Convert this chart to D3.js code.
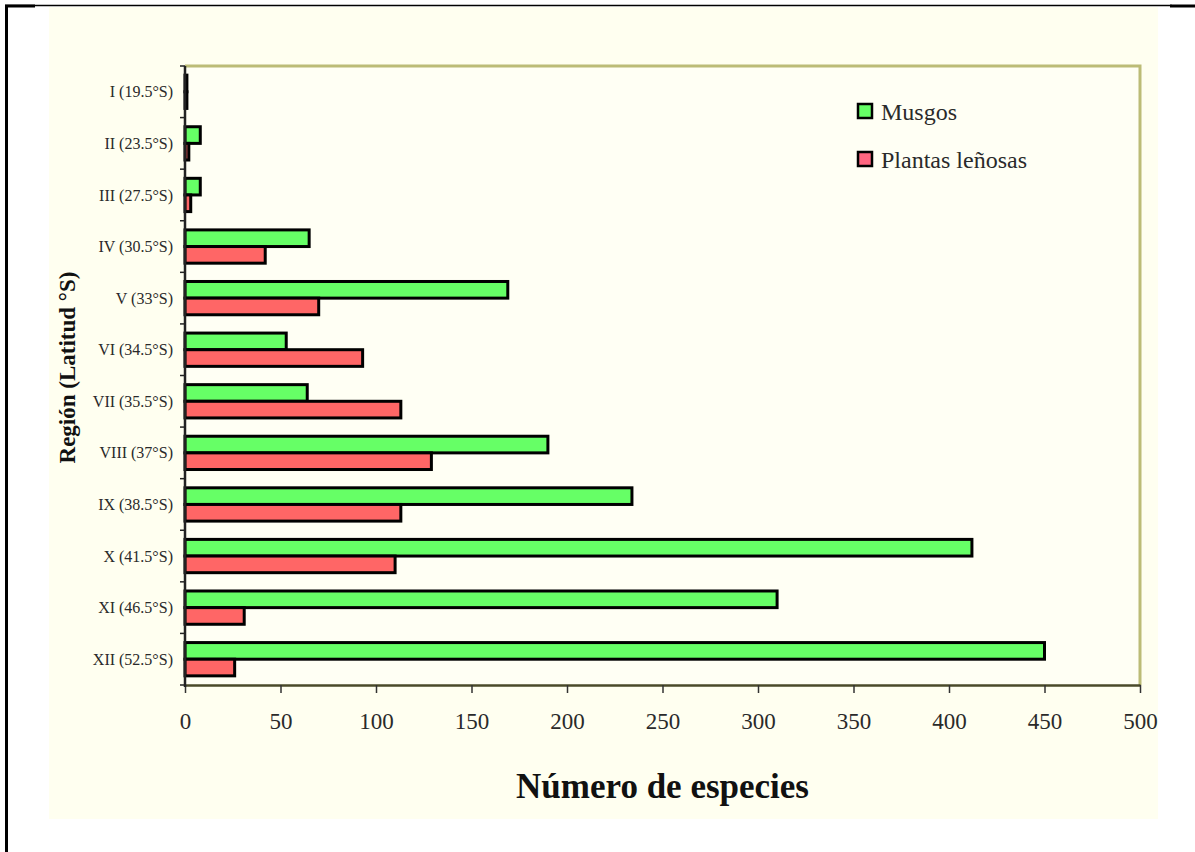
<!DOCTYPE html>
<html>
<head>
<meta charset="utf-8">
<script src="https://cdn.jsdelivr.net/npm/d3@7"></script>
<style>
  html, body { margin: 0; padding: 0; background: #ffffff; }
  svg { display: block; }
</style>
</head>
<body>
<svg id="chart" width="1195" height="852"></svg>
<script>
// Regions of Chile (latitude) and species counts per group
const regions = ["I (19.5°S)", "II (23.5°S)", "III (27.5°S)", "IV (30.5°S)", "V (33°S)",
  "VI (34.5°S)", "VII (35.5°S)", "VIII (37°S)", "IX (38.5°S)", "X (41.5°S)",
  "XI (46.5°S)", "XII (52.5°S)"];
const musgos = [1, 8, 8, 65, 169, 53, 64, 190, 234, 412, 310, 450];
const lenosas = [1, 2, 3, 42, 70, 93, 113, 129, 113, 110, 31, 26];
const seriesNames = ["Musgos", "Plantas leñosas"];
const seriesColors = ["#66ff66", "#ff6666"];
const xTicks = [0, 50, 100, 150, 200, 250, 300, 350, 400, 450, 500];

const svg = d3.select("#chart");
const serif = "'Liberation Serif', 'Times New Roman', serif";

// Page frame
svg.append("rect").attr("x", 49).attr("y", 7).attr("width", 1109).attr("height", 812)
  .attr("fill", "#fffff0");
svg.append("line").attr("x1", 5).attr("x2", 1172).attr("y1", 5.5).attr("y2", 5.5)
  .attr("stroke", "#000").attr("stroke-width", 1.5);
svg.append("line").attr("x1", 5).attr("x2", 35).attr("y1", 6).attr("y2", 6)
  .attr("stroke", "#000").attr("stroke-width", 3);
svg.append("line").attr("x1", 1170).attr("x2", 1195).attr("y1", 6).attr("y2", 6)
  .attr("stroke", "#000").attr("stroke-width", 3);
svg.append("line").attr("x1", 6.5).attr("x2", 6.5).attr("y1", 5).attr("y2", 852)
  .attr("stroke", "#000").attr("stroke-width", 3);

// Plot area
const m = { left: 185, top: 66, right: 1140, bottom: 685 };
const x = d3.scaleLinear().domain([0, 500]).range([m.left, m.right]);
const y = d3.scaleBand().domain(regions).range([m.top, m.bottom]).paddingInner(0).paddingOuter(0);
const ySub = d3.scaleBand().domain(seriesNames).range([0, y.bandwidth()]).paddingInner(0).paddingOuter(0.55);

svg.append("rect").attr("x", m.left).attr("y", m.top)
  .attr("width", m.right - m.left).attr("height", m.bottom - m.top)
  .attr("fill", "#fffff4");

// olive frame on top and right
svg.append("path")
  .attr("d", `M${m.left},${m.top}H${m.right}V${m.bottom}`)
  .attr("fill", "none").attr("stroke", "#bcbc76").attr("stroke-width", 3);

// Bars
const series = [musgos, lenosas];
series.forEach((vals, si) => {
  svg.append("g").selectAll("rect").data(regions).join("rect")
    .attr("x", x(0))
    .attr("y", (d) => y(d) + ySub(seriesNames[si]))
    .attr("width", (d, i) => Math.max(0, x(vals[i]) - x(0)))
    .attr("height", ySub.bandwidth())
    .attr("fill", seriesColors[si])
    .attr("stroke", "#000")
    .attr("stroke-width", 3);
});

// X axis
const xAxis = d3.axisBottom(x).tickValues(xTicks).tickSize(8).tickSizeOuter(0).tickPadding(20);
const gx = svg.append("g").attr("transform", `translate(0,${m.bottom})`).call(xAxis);
gx.select(".domain").attr("stroke", "#4a4a2a").attr("stroke-width", 2.5);
gx.selectAll(".tick line").attr("stroke", "#333").attr("stroke-width", 1.5);
gx.selectAll(".tick text").attr("font-family", serif).attr("font-size", 23)
  .attr("fill", "#2a2a2a");

// Y axis with ticks at category boundaries
const gy = svg.append("g").attr("transform", `translate(${m.left},0)`);
gy.append("line").attr("x1", 0).attr("x2", 0).attr("y1", m.top).attr("y2", m.bottom + 2)
  .attr("stroke", "#222").attr("stroke-width", 2.5);
const bounds = regions.map((d) => y(d)).concat([m.bottom]);
gy.selectAll("line.tk").data(bounds).join("line").attr("class", "tk")
  .attr("x1", -5).attr("x2", 0).attr("y1", (d) => d).attr("y2", (d) => d)
  .attr("stroke", "#222").attr("stroke-width", 1.5);
gy.selectAll("text").data(regions).join("text")
  .attr("x", -12)
  .attr("y", (d) => y(d) + y.bandwidth() / 2)
  .attr("dy", "0.35em")
  .attr("text-anchor", "end")
  .attr("font-family", serif).attr("font-size", 16)
  .attr("fill", "#2a2a2a")
  .text((d) => d);

// Axis titles
svg.append("text").attr("x", (m.left + m.right) / 2).attr("y", 798)
  .attr("text-anchor", "middle")
  .attr("font-family", serif).attr("font-size", 35).attr("font-weight", "bold")
  .attr("fill", "#111")
  .text("Número de especies");
svg.append("text")
  .attr("transform", `translate(75,${(m.top + m.bottom) / 2 - 8}) rotate(-90)`)
  .attr("text-anchor", "middle")
  .attr("font-family", serif).attr("font-size", 23).attr("font-weight", "bold")
  .attr("fill", "#111")
  .text("Región (Latitud °S)");

// Legend
const legend = svg.append("g").attr("transform", "translate(858,104)");
seriesNames.forEach((name, i) => {
  const g = legend.append("g").attr("transform", `translate(0,${i * 48})`);
  g.append("rect").attr("x", 0).attr("y", 0).attr("width", 14).attr("height", 14)
    .attr("fill", i === 0 ? seriesColors[0] : "#ff6680")
    .attr("stroke", "#000").attr("stroke-width", 2.5);
  g.append("text").attr("x", 23).attr("y", 16)
    .attr("font-family", serif).attr("font-size", 24)
    .attr("fill", "#2a2a2a")
    .text(name);
});
</script>
</body>
</html>
